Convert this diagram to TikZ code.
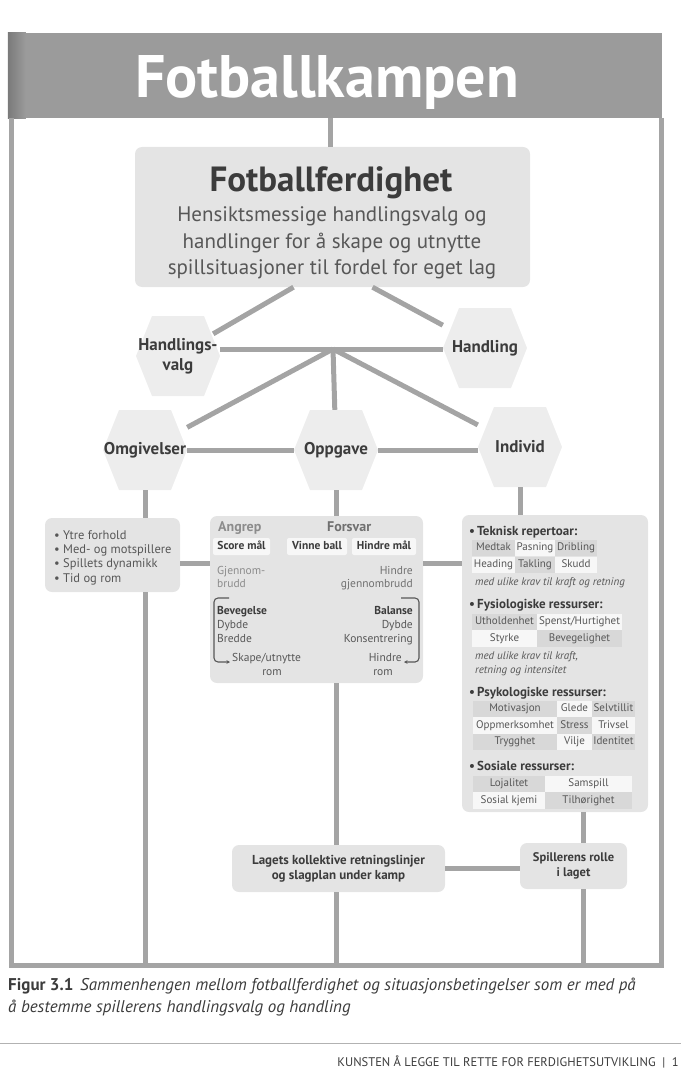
\documentclass[tikz,border=0pt]{standalone}
\usepackage{fontspec}
\setmainfont{PT Sans}
\usetikzlibrary{arrows.meta,positioning,backgrounds}

\definecolor{bargray}{HTML}{9B9B9B}
\definecolor{bardark}{HTML}{7A7A7A}
\definecolor{linegray}{HTML}{A4A4A4}
\definecolor{boxgray}{HTML}{E4E4E4}
\definecolor{hexgray}{HTML}{EDEDED}
\definecolor{cellgray}{HTML}{D8D8D8}
\definecolor{cellwhite}{HTML}{F7F7F7}
\definecolor{txtdark}{HTML}{3C3C3C}
\definecolor{txtmid}{HTML}{575757}
\definecolor{txtlight}{HTML}{8C8C8C}

\newcommand{\fsz}[2]{\fontsize{#1}{#2}\selectfont}

\tikzset{
  conn/.style={draw=linegray, line width=5pt},
  frameline/.style={draw=linegray, line width=5pt},
  greybox/.style={fill=boxgray, rounded corners=7pt, inner sep=0pt},
  hexnode/.style={minimum width=84pt, minimum height=80pt, inner sep=0pt, align=center,
    font=\fsz{17}{20}\bfseries, text=txtdark},
  whitebox/.style={fill=cellwhite, rounded corners=2pt, inner sep=0pt, minimum height=17pt,
    text height=8.5pt, text depth=2.5pt, font=\fsz{11.5}{13}\bfseries, text=txtdark},
  cell/.style={inner sep=0pt, minimum height=16.5pt, text height=8pt, text depth=2.5pt,
    font=\fsz{11}{13}, text=txtmid},
  midtxt/.style={inner sep=0pt, font=\fsz{11.5}{14}, text=txtmid},
  restitle/.style={inner sep=0pt, anchor=base west, font=\fsz{13}{15}\bfseries, text=txtdark},
  resnote/.style={inner sep=0pt, anchor=base west, font=\fsz{11}{13}\itshape, text=txtmid},
  bracket/.style={draw=txtmid, line width=1.1pt, rounded corners=4pt,
    -{Stealth[length=3.5pt,width=3.5pt]}},
}

\begin{document}
\begin{tikzpicture}[x=1pt, y=-1pt]
  \useasboundingbox (0,0) rectangle (681,1075);

  % Title bar
  \node[fill=bargray, minimum width=654pt, minimum height=85pt, inner sep=0pt] (bar) at (335,75.5) {};
  \shade[left color=bardark, right color=bargray] (bar.north west) rectangle ([xshift=18pt]bar.south west);
  \node[anchor=base, inner sep=0pt, text=white, font=\fsz{60}{62}\bfseries] (title) at (327,98) {Fotballkampen};

  % Frame
  \coordinate (bl) at (11,965);
  \coordinate (br) at (661,965);
  \draw[frameline] (bar.south -| bl) -- (bl) -- (br) -- (bar.south -| br);

  % Fotballferdighet
  \node[greybox, minimum width=395pt, minimum height=140pt] (ff) at (332.5,217) {};
  \node[anchor=base, inner sep=0pt, text=txtdark, font=\fsz{35}{38}\bfseries] (fftitle) at (331,192) {Fotballferdighet};
  \foreach \t/\y [count=\i] in {Hensiktsmessige handlingsvalg og/222,
      handlinger for å skape og utnytte/248, spillsituasjoner til fordel for eget lag/274}
    \node[anchor=base, inner sep=0pt, text=txtmid, font=\fsz{21}{24}] (ffl\i) at (332,\y) {\t};
  \draw[conn] ([xshift=-2pt]ff.north) -- ([xshift=-2pt]ff.north |- bar.south);

  % Hexagons
  \node[hexnode] (hv) at (178,356) {Handlings-\\valg};
  \node[hexnode] (ha) at (485,348) {Handling};
  \node[hexnode] (om) at (145,450) {Omgivelser};
  \node[hexnode] (op) at (336,450) {Oppgave};
  \node[hexnode] (indv) at (520,447) {Individ};
  \begin{scope}[on background layer]
    \foreach \n/\dy in {hv/5,ha/0,om/0,op/0,indv/0}
      \fill[hexgray, yshift=\dy pt] ([xshift=-42pt]\n.center) -- ([xshift=-26pt,yshift=40pt]\n.center)
        -- ([xshift=26pt,yshift=40pt]\n.center) -- ([xshift=42pt]\n.center)
        -- ([xshift=26pt,yshift=-40pt]\n.center) -- ([xshift=-26pt,yshift=-40pt]\n.center) -- cycle;
  \end{scope}

  \coordinate (hub) at (333,349);
  \draw[conn] ([xshift=-39pt]ff.south) -- ([xshift=-7pt,yshift=-18pt]hv.north east);
  \draw[conn] ([xshift=40pt]ff.south) -- (ha);
  \draw[conn] (hub -| hv.east) -- (hub -| ha.west);
  \draw[conn] (hub) -- (om);
  \draw[conn] (hub) -- (op);
  \draw[conn] (hub) -- (indv);
  \draw[conn] (om) -- (op);
  \draw[conn] (op.east) -- (op.east -| indv.west);

  % Omgivelser box
  \node[greybox, minimum width=135pt, minimum height=74pt] (lbox) at (112.5,555) {};
  \foreach \t/\y [count=\i] in {Ytre forhold/539, Med- og motspillere/553,
      Spillets dynamikk/567, Tid og rom/582}
    \node[midtxt, anchor=base west, font=\fsz{12.5}{14}] (lt\i) at (54,\y) {\textbullet\ \t};
  \draw[conn] (om.south) -- (om.south |- lbox.north);
  \draw[conn] (om.south |- lbox.south) -- (om.south |- bl);

  % Oppgave box
  \node[greybox, minimum width=213pt, minimum height=167pt] (mbox) at (316.5,599.5) {};
  \node[midtxt, anchor=base west, font=\fsz{14}{16}\bfseries, text=txtlight] (angrep) at (218,531) {Angrep};
  \node[midtxt, anchor=base west, font=\fsz{14}{16}\bfseries, text=txtmid!85] (forsvar) at (327,531) {Forsvar};
  \node[whitebox, minimum width=57pt] (score) at (241.5,546.5) {Score mål};
  \node[whitebox, minimum width=60pt] (vinne) at (317,546.5) {Vinne ball};
  \node[whitebox, minimum width=64pt] (hmaal) at (384,546.5) {Hindre mål};
  \node[midtxt, anchor=base west, text=txtlight] (gj1) at (217,574) {Gjennom-};
  \node[midtxt, anchor=base west, text=txtlight] (gj2) at (217,587) {brudd};
  \node[midtxt, anchor=base east, text=txtmid!85] (hg1) at (413,574) {Hindre};
  \node[midtxt, anchor=base east, text=txtmid!85] (hg2) at (413,587) {gjennombrudd};
  \node[midtxt, anchor=base west, font=\fsz{11.5}{14}\bfseries, text=txtdark] (bev) at (217,614) {Bevegelse};
  \node[midtxt, anchor=base west] (dybl) at (217,628) {Dybde};
  \node[midtxt, anchor=base west] (bred) at (217,642) {Bredde};
  \node[midtxt, anchor=base west] (skape) at (232,661) {Skape/utnytte};
  \node[midtxt, anchor=base] (roml) at (272,675) {rom};
  \node[midtxt, anchor=base east, font=\fsz{11.5}{14}\bfseries, text=txtdark] (bal) at (413,614) {Balanse};
  \node[midtxt, anchor=base east] (dybr) at (413,628) {Dybde};
  \node[midtxt, anchor=base east] (kons) at (413,642) {Konsentrering};
  \node[midtxt, anchor=base east] (hindr) at (402,661) {Hindre};
  \node[midtxt, anchor=base] (romr) at (383,675) {rom};
  \coordinate (lbtop) at (229,598);
  \coordinate (rbtop) at (401,598);
  \draw[bracket] (lbtop) -| ([xshift=-18pt,yshift=-1pt]skape.base west) -- ([xshift=-2pt,yshift=-1pt]skape.base west);
  \draw[bracket] (rbtop) -| ([xshift=17pt,yshift=-1pt]hindr.base east) -- ([xshift=2pt,yshift=-1pt]hindr.base east);
  \draw[conn] (op.south) -- (op.south |- mbox.north);
  \draw[conn] ([yshift=-8pt]lbox.east) -- ([yshift=-8pt]lbox.east -| mbox.west);

  % Individ box
  \node[greybox, minimum width=186pt, minimum height=297pt] (rbox) at (555,663.5) {};
  \draw[conn] ([yshift=36.5pt]mbox.east) -- ([yshift=36.5pt]mbox.east -| rbox.west);
  \draw[conn] (indv.south) -- (indv.south |- rbox.north);
  \node[restitle] (tek) at (469,535) {\textbullet\,Teknisk repertoar:};
  \node[restitle] (fys) at (469,608) {\textbullet\,Fysiologiske ressurser:};
  \node[restitle] (psy) at (469,696) {\textbullet\,Psykologiske ressurser:};
  \node[restitle] (sos) at (469,770) {\textbullet\,Sosiale ressurser:};
  \foreach \x/\y/\w/\c/\t [count=\i] in {
      493.5/548/43/cellgray/Medtak, 535/548/40/cellwhite/Pasning, 576/548/42/cellgray/Dribling,
      493.5/565/43/cellwhite/Heading, 535/565/40/cellgray/Takling, 576/565/42/cellwhite/Skudd,
      504.5/622/65/cellgray/Utholdenhet, 579.5/622/85/cellwhite/Spenst\slash Hurtighet,
      504.5/638.5/65/cellwhite/Styrke, 579.5/638.5/85/cellgray/Bevegelighet,
      515/709/84/cellgray/Motivasjon, 574.5/709/35/cellwhite/Glede, 613.5/709/43/cellgray/Selvtillit,
      515/725.5/84/cellwhite/Oppmerksomhet, 574.5/725.5/35/cellgray/Stress, 613.5/725.5/43/cellwhite/Trivsel,
      515/742/84/cellgray/Trygghet, 574.5/742/35/cellwhite/Vilje, 613.5/742/43/cellgray/Identitet,
      509/784/72/cellgray/Lojalitet, 588.5/784/87/cellwhite/Samspill,
      509/800.5/72/cellwhite/Sosial kjemi, 588.5/800.5/87/cellgray/Tilhørighet}
    \node[cell, fill=\c, minimum width=\w] (cell\i) at (\x,\y) {\t};
  \node[resnote] (tekn) at (475,585) {med ulike krav til kraft og retning};
  \node[resnote] (fysn1) at (475,659) {med ulike krav til kraft,};
  \node[resnote] (fysn2) at (475,673) {retning og intensitet};

  % Lag og rolle
  \node[greybox, minimum width=213pt, minimum height=47pt, align=center,
    font=\fsz{13}{15}\bfseries, text=txtdark] (lag) at (338.5,868.5) {Lagets kollektive retningslinjer\\og slagplan under kamp};
  \node[greybox, minimum width=107pt, minimum height=46pt, align=center,
    font=\fsz{12.5}{15}\bfseries, text=txtdark] (spill) at (573.5,866) {Spillerens rolle\\i laget};
  \draw[conn] (op.south |- mbox.south) -- (op.south |- lag.north);
  \draw[conn] (op.south |- lag.south) -- (op.south |- bl);
  \draw[conn] (lag.east) -- (lag.east -| spill.west);
  \draw[conn] ([xshift=9.5pt]spill.north) -- ([xshift=9.5pt]spill.north |- rbox.south);
  \draw[conn] ([xshift=9.5pt]spill.south) -- ([xshift=9.5pt]spill.south |- bl);

  % Caption and footer
  \node[anchor=base west, inner sep=0pt, font=\fsz{17}{20}, text=txtdark] (cap1) at (8,990)
    {\textbf{Figur 3.1}\hspace{0.4em}\textit{Sammenhengen mellom fotballferdighet og situasjonsbetingelser som er med på}};
  \node[anchor=base west, inner sep=0pt, font=\fsz{17}{20}\itshape, text=txtdark] (cap2) at (8,1012)
    {å bestemme spillerens handlingsvalg og handling};
  \draw[gray!60, line width=0.6pt] (0,1043) -- (681,1043);
  \node[anchor=base east, inner sep=0pt, font=\fsz{12.5}{14}, text=txtdark] (foot) at (679,1066)
    {KUNSTEN Å LEGGE TIL RETTE FOR FERDIGHETSUTVIKLING\ \ |\ \ 1};
\end{tikzpicture}
\end{document}
